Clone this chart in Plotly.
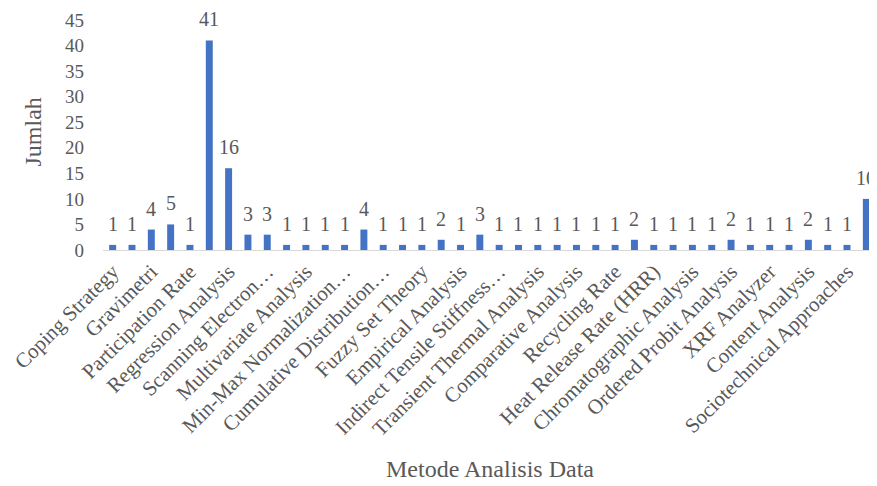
import plotly.graph_objects as go

values = [1, 1, 4, 5, 1, 41, 16, 3, 3, 1, 1, 1, 1, 4,
          1, 1, 1, 2, 1, 3, 1, 1, 1, 1, 1, 1, 1, 2,
          1, 1, 1, 1, 2, 1, 1, 1, 2, 1, 1, 10]
# only every other category name is visible in the reference
shown_labels = ["Coping Strategy", "Gravimetri", "Participation Rate", "Regression Analysis",
                "Scanning Electron…", "Multivariate Analysis", "Min-Max Normalization…",
                "Cumulative Distribution…", "Fuzzy Set Theory", "Empirical Analysis",
                "Indirect Tensile Stiffness…", "Transient Thermal Analysis", "Comparative Analysis",
                "Recycling Rate", "Heat Release Rate (HRR)", "Chromatographic Analysis",
                "Ordered Probit Analysis", "XRF Analyzer", "Content Analysis",
                "Sociotechnical Approaches"]
y_ticks = [0, 5, 10, 15, 20, 25, 30, 35, 40, 45]

x = list(range(len(values)))
tickvals = x[::2]

FONT = "Liberation Serif"
GRAY = "#595959"

fig = go.Figure(go.Bar(x=x, y=values, marker_color="#4472C4", marker_line_width=0))

annotations = [dict(x=i, y=v, text=str(v), showarrow=False, yanchor="bottom",
                    yshift=8, font=dict(family=FONT, size=20, color=GRAY))
               for i, v in zip(x, values)]
annotations.append(dict(text="Metode Analisis Data", xref="paper", yref="paper",
                        x=0.5, y=-0.952, showarrow=False, yanchor="middle",
                        font=dict(family=FONT, size=24, color=GRAY)))
annotations.append(dict(text="Jumlah", xref="paper", yref="paper", textangle=-90,
                        x=-0.0906, y=0.515, showarrow=False, xanchor="center",
                        font=dict(family=FONT, size=24, color=GRAY)))

fig.update_layout(
    width=869, height=478,
    margin=dict(l=95, r=1, t=12, b=236),
    paper_bgcolor="white", plot_bgcolor="white",
    bargap=0.64, showlegend=False,
    annotations=annotations,
    xaxis=dict(range=[-0.5, len(values) - 0.5], tickmode="array", tickvals=tickvals,
               ticktext=shown_labels, tickangle=-45, showgrid=False,
               showline=True, linecolor="#D9D9D9", linewidth=1, ticks="",
               tickfont=dict(family=FONT, size=21, color=GRAY), automargin=False),
    yaxis=dict(range=[0, 45], tickmode="array", tickvals=y_ticks, showgrid=False,
               zeroline=False, showline=False, ticks="", ticklabelstandoff=18,
               tickfont=dict(family=FONT, size=19, color=GRAY), automargin=False),
)

fig.write_html("out.html")
